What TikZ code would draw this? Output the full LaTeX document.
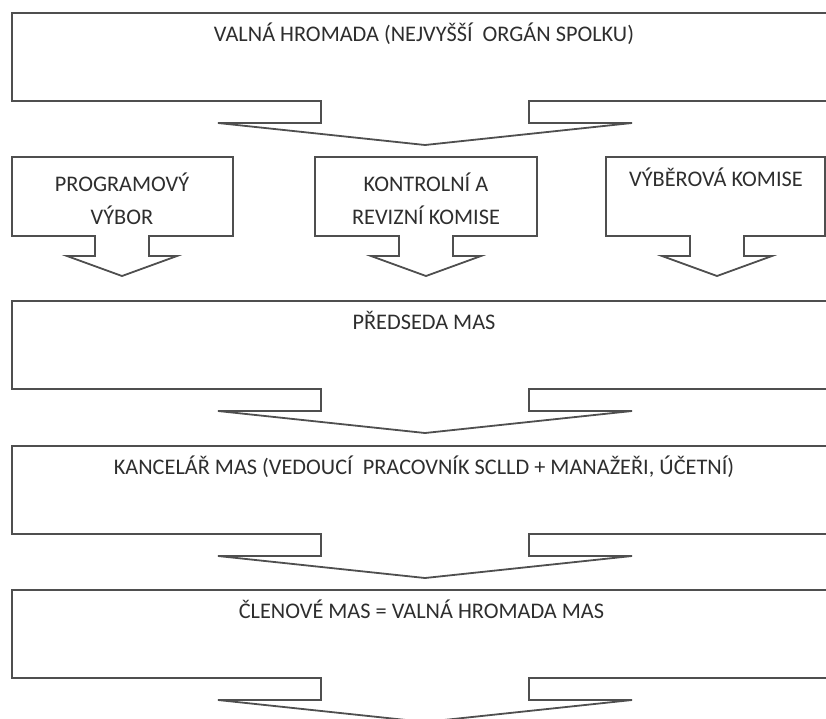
\documentclass[tikz,border=0pt]{standalone}
\usepackage{fontspec}
\setmainfont{Carlito}
\definecolor{linegray}{HTML}{4F4F4F}
\definecolor{textgray}{HTML}{2E2E2E}

\begin{document}
\begin{tikzpicture}[x=1pt, y=-1pt,
		outline/.style={draw=linegray, line width=1.8pt, line join=miter},
		label/.style={text=textgray, font=\fontsize{22.3}{33}\selectfont, align=center, inner sep=0pt}]
	\useasboundingbox (0,0) rectangle (826,718);
	\clip (0,0) rectangle (826,718);
	
	% wide boxes with a wide arrow below
	\foreach \ytop/\nm/\txt in {
		13/valna/{VALNÁ HROMADA (NEJVYŠŠÍ\ \ ORGÁN SPOLKU)},
		301/predseda/{PŘEDSEDA MAS},
		446/kancelar/{KANCELÁŘ MAS (VEDOUCÍ\ \ PRACOVNÍK SCLLD + MANAŽEŘI, ÚČETNÍ)},
		590/clenove/{ČLENOVÉ MAS = VALNÁ HROMADA MAS}
	}
	{
		\draw[outline] (12,\ytop) -- (838,\ytop) -- (838,\ytop+88) -- (529,\ytop+88) -- (529,\ytop+110)
			-- (632,\ytop+110) -- (425,\ytop+132) -- (218,\ytop+110) -- (321,\ytop+110)
			-- (321,\ytop+88) -- (12,\ytop+88) -- cycle;
		\node[label, anchor=base] (\nm) at (424,\ytop+28) {\txt};
	}
	
	% three small boxes with a small arrow below
	\foreach \xl/\xr/\xc in {12/233/122, 315/537/426, 606/825/717}
	{
		\draw[outline] (\xl,157) -- (\xr,157) -- (\xr,236) -- (\xc+27,236) -- (\xc+27,256)
			-- (\xc+55,256) -- (\xc,276) -- (\xc-55,256) -- (\xc-27,256)
			-- (\xc-27,236) -- (\xl,236) -- cycle;
	}
	\node[label] (programovy) at (122,199) {PROGRAMOVÝ\\VÝBOR};
	\node[label] (kontrolni) at (426,199) {KONTROLNÍ A\\REVIZNÍ KOMISE};
	\node[label, anchor=base] (vyberova) at (716,186) {VÝBĚROVÁ KOMISE};
\end{tikzpicture}
\end{document}
